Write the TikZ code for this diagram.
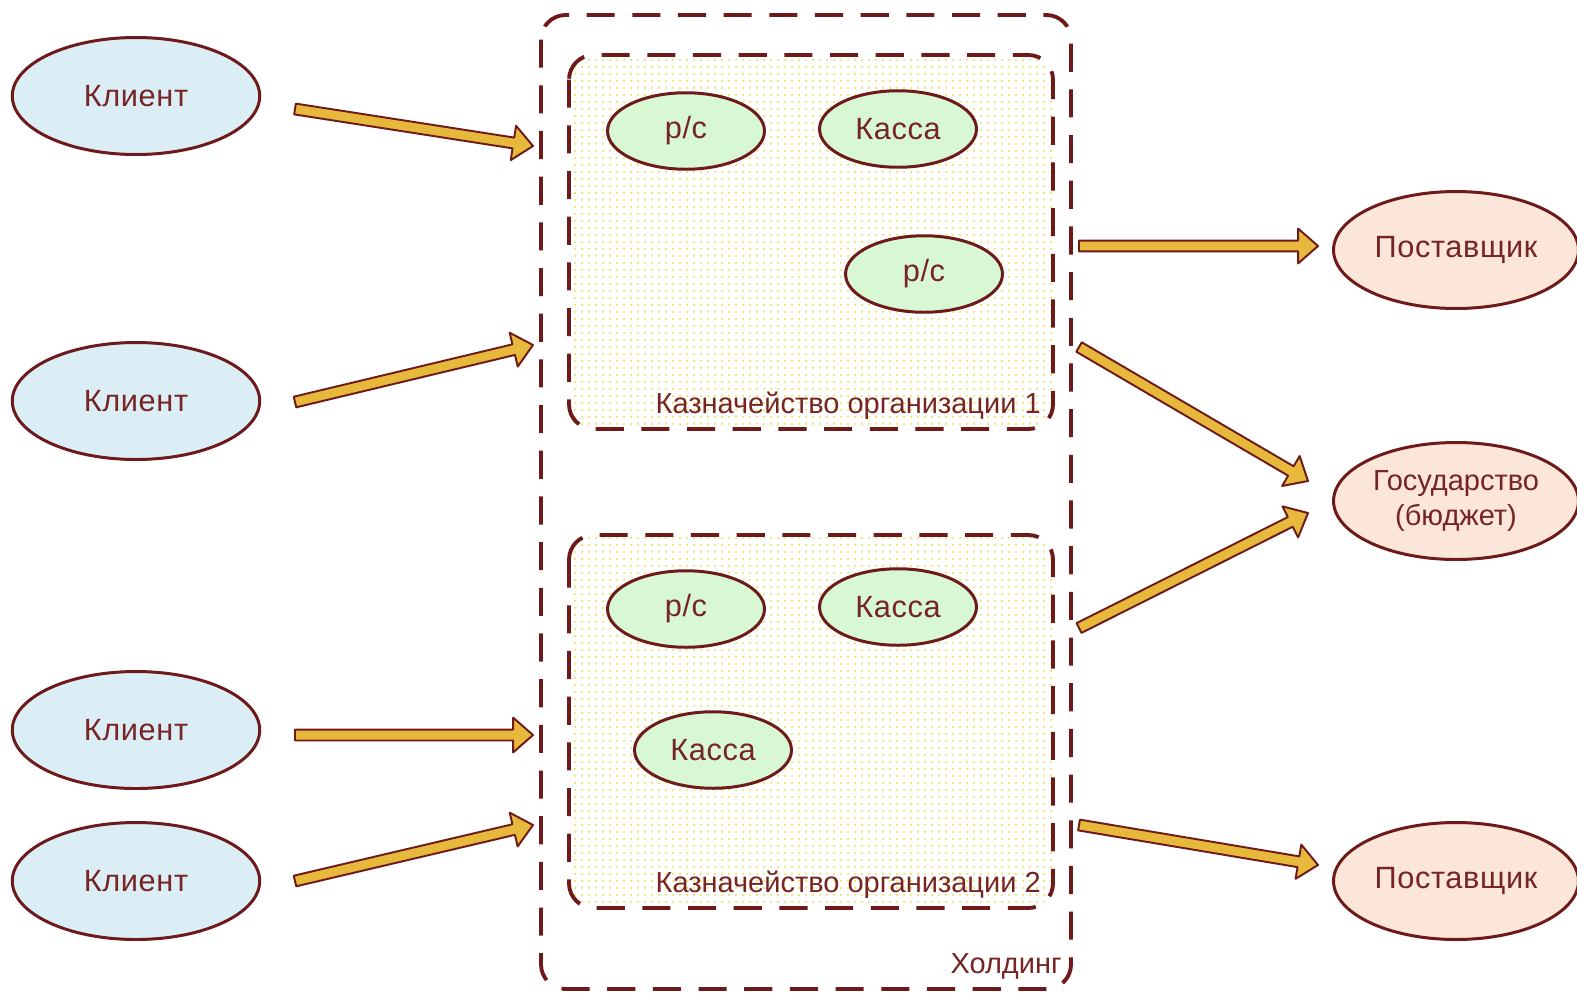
\documentclass[tikz,border=0pt]{standalone}
\usepackage{fontspec}
\setmainfont{Liberation Sans}
\newfontfamily\ovalfont{Liberation Sans}[LetterSpace=2]
\usetikzlibrary{shapes.geometric,calc,patterns.meta}

\definecolor{rand}{HTML}{6E1A1A}
\definecolor{schrift}{HTML}{762424}
\definecolor{blau}{HTML}{DCEEF5}
\definecolor{pfirsich}{HTML}{FCE5D9}
\definecolor{gruen}{HTML}{D7F8D2}
\definecolor{gold}{HTML}{E6B83C}
\definecolor{punkt}{HTML}{F0E060}

% dicker Pfeil von #1 nach #2
\newcommand{\fatarrow}[2]{%
  \coordinate (h) at ($(#2)!11.3pt!(#1)$);
  \filldraw[fat] ($(#1)!3.1pt!90:(#2)$) -- ($(h)!3.1pt!90:(#2)$)
    -- ($(h)!9.9pt!90:(#2)$) -- (#2) -- ($(h)!9.9pt!-90:(#2)$)
    -- ($(h)!3.1pt!-90:(#2)$) -- ($(#1)!3.1pt!-90:(#2)$) -- cycle;}

\begin{document}
\begin{tikzpicture}[x=0.02cm, y=-0.02cm,
  every node/.style={text=schrift},
  oval/.style={ellipse, draw=rand, line width=1.7pt, inner sep=0pt,
    font=\ovalfont\fontsize{17.5pt}{19pt}\selectfont},
  klient/.style={oval, fill=blau, minimum width=4.95cm, minimum height=2.34cm},
  post/.style={oval, fill=pfirsich, minimum width=4.9cm, minimum height=2.34cm},
  schet/.style={oval, fill=gruen, minimum width=3.14cm, minimum height=1.53cm},
  rahmen/.style={draw=rand, line width=2.2pt, dash pattern=on 16pt off 10pt, rounded corners=14pt},
  org/.style={rahmen, pattern={Dots[distance=4pt, radius=0.8pt]}, pattern color=punkt},
  lbl/.style={inner sep=0pt, font=\fontsize{16.5pt}{19pt}\selectfont},
  fat/.style={fill=gold, draw=rand, line width=1.1pt, line join=round}]
\useasboundingbox (0,0) rectangle (1577,992);

% Rahmen
\draw[rahmen] (541,15) rectangle (1071,989);
\draw[org] (569,55) rectangle (1053,429);
\draw[org] (569,535) rectangle (1053,908);
\node[lbl, anchor=base east] (t1) at (1041,413) {Казначейство организации 1};
\node[lbl, anchor=base east] (t2) at (1041,892) {Казначейство организации 2};
\node[lbl, anchor=base east] (th) at (1062,973) {Холдинг};

% Konten und Kassen
\node[schet] (rs1) at (686,131) {р/с};
\node[schet] (ka1) at (898,129) {Касса};
\node[schet] (rs2) at (924,274) {р/с};
\node[schet] (rs3) at (686,609) {р/с};
\node[schet] (ka2) at (898,607) {Касса};
\node[schet] (ka3) at (713,750) {Касса};

% links
\node[klient] (k1) at (136,96) {Клиент};
\node[klient] (k2) at (136,401) {Клиент};
\node[klient] (k3) at (136,730) {Клиент};
\node[klient] (k4) at (136,881) {Клиент};

% rechts
\node[post] (p1) at (1456,250) {Поставщик};
\node[post, align=center, font=\fontsize{16.5pt}{20pt}\selectfont] (gos) at (1456,501)
  {Государство\\(бюджет)};
\node[post] (p2) at (1456,881) {Поставщик};

% Pfeile
\coordinate (a1) at (295,109); \coordinate (b1) at (533,146);
\coordinate (a2) at (295,402); \coordinate (b2) at (533,345);
\coordinate (a3) at (295,735); \coordinate (b3) at (533,735);
\coordinate (a4) at (295,881); \coordinate (b4) at (533,825);
\coordinate (a5) at (1079,246); \coordinate (b5) at (1318,246);
\coordinate (a6) at (1079,347); \coordinate (b6) at (1308,481);
\coordinate (a7) at (1079,628); \coordinate (b7) at (1308,513);
\coordinate (a8) at (1079,825); \coordinate (b8) at (1318,865);
\foreach \i in {1,...,8} {\fatarrow{a\i}{b\i}}
\end{tikzpicture}
\end{document}
